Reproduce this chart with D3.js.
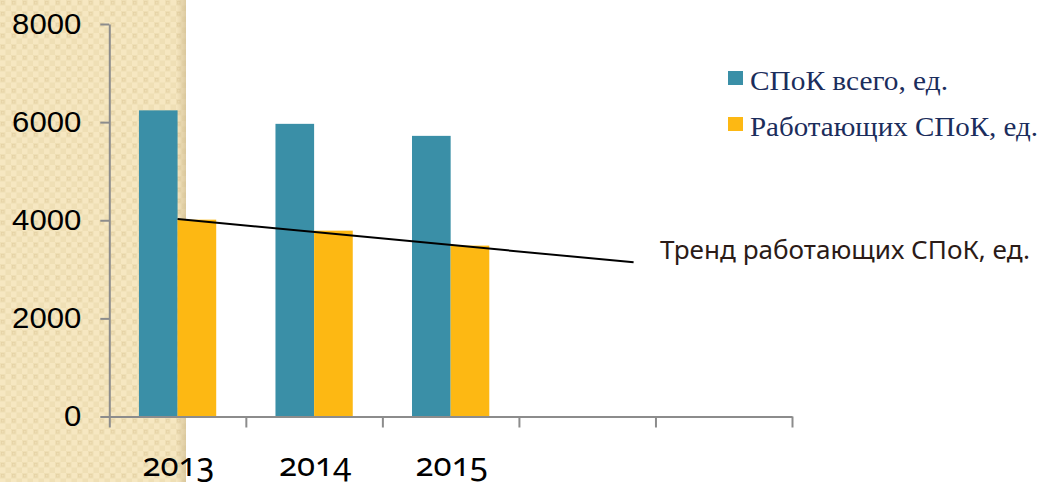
<!DOCTYPE html>
<html><head><meta charset="utf-8">
<script src="https://cdn.jsdelivr.net/npm/d3@7"></script>
<style>
html,body{margin:0;padding:0;background:#fff;overflow:hidden}
svg{display:block}
</style></head>
<body>
<svg id="chart" width="1044" height="482"></svg>
<script>
// ---- data ----
const categories = ["2013", "2014", "2015", "", ""];
const seriesNames = ["СПоК всего, ед.", "Работающих СПоК, ед."];
const totalValues = [6240, 5965, 5720];
const workingValues = [4012, 3788, 3483];
const yTicks = [0, 2000, 4000, 6000, 8000];
const trendLabel = "Тренд работающих СПоК, ед.";
const trendForward = 1.34; // forecast periods beyond last point

const colors = ["#3a8fa7", "#fdb813"];

const svg = d3.select("#chart");
const W = 1044, H = 482;

// background texture on the left
const defs = svg.append("defs");
const pat = defs.append("pattern").attr("id", "tex").attr("patternUnits", "userSpaceOnUse")
  .attr("width", 11).attr("height", 11);
pat.append("rect").attr("width", 11).attr("height", 11).attr("fill", "#f6e7c1");
pat.append("rect").attr("x", 0).attr("y", 0).attr("width", 5.5).attr("height", 5.5).attr("fill", "#efdfb5");
pat.append("rect").attr("x", 5.5).attr("y", 5.5).attr("width", 5.5).attr("height", 5.5).attr("fill", "#efdfb5");
pat.append("rect").attr("x", 1.5).attr("y", 1.5).attr("width", 2.5).attr("height", 2.5).attr("fill", "none").attr("stroke", "#e6d3a6").attr("stroke-width", 0.8);
const grad = defs.append("linearGradient").attr("id", "shade").attr("x1", 0).attr("x2", 1);
grad.append("stop").attr("offset", "0").attr("stop-color", "#c9b487").attr("stop-opacity", 0);
grad.append("stop").attr("offset", "1").attr("stop-color", "#c9b487").attr("stop-opacity", 0.55);
svg.append("rect").attr("x", 0).attr("y", 0).attr("width", 186).attr("height", H).attr("fill", "url(#tex)");
svg.append("rect").attr("x", 176).attr("y", 0).attr("width", 10).attr("height", H).attr("fill", "url(#shade)");

// ---- scales ----
const x0 = d3.scaleBand().domain(d3.range(categories.length)).range([109.3, 792]).padding(0);
const bw = x0.bandwidth();
const x1 = d3.scaleBand().domain(d3.range(seriesNames.length)).range([bw * 0.217, bw * 0.783]).padding(0);
const y = d3.scaleLinear().domain([0, 8000]).range([416.5, 24]);

// ---- bars ----
const seriesData = [totalValues, workingValues];
seriesData.forEach((vals, si) => {
  svg.append("g").selectAll("rect").data(vals).join("rect")
    .attr("x", (d, i) => x0(i) + x1(si))
    .attr("y", d => y(d))
    .attr("width", x1.bandwidth())
    .attr("height", d => y(0) - y(d))
    .attr("fill", colors[si]);
});

// ---- axes ----
const axisColor = "#8c8c8c";
const yAxis = svg.append("g").attr("transform", "translate(109.3,0)")
  .call(d3.axisLeft(y).tickValues(yTicks).tickSize(9).tickSizeOuter(0).tickPadding(19).tickFormat(d3.format("d")));
yAxis.select(".domain").attr("stroke", axisColor).attr("stroke-width", 2);
yAxis.selectAll(".tick line").attr("stroke", axisColor).attr("stroke-width", 2);
yAxis.selectAll(".tick text").attr("fill", "#000").style("font-family", "'Liberation Sans', Arial, sans-serif")
  .style("font-size", "29px").attr("textLength", d => String(d).length * 17.3).attr("lengthAdjust", "spacingAndGlyphs");

const xb = d3.scaleLinear().domain([0, categories.length]).range([109.3, 792]);
const xAxis = svg.append("g").attr("transform", "translate(0,416.5)")
  .call(d3.axisBottom(xb).tickValues(d3.range(categories.length + 1)).tickSize(11).tickSizeOuter(0).tickFormat(""));
xAxis.select(".domain").attr("stroke", axisColor).attr("stroke-width", 2);
xAxis.selectAll(".tick line").attr("stroke", axisColor).attr("stroke-width", 2);

svg.append("g").selectAll("text").data(categories).join("text")
  .attr("x", (d, i) => x0(i) + bw / 2 + 1)
  .attr("y", 476)
  .attr("text-anchor", "middle")
  .style("font-family", "'Noto Sans', 'Open Sans', sans-serif")
  .style("font-size", "33px")
  .style("font-variant-numeric", "oldstyle-nums")
  .attr("fill", "#000")
  .text(d => d);

// ---- trend line (linear regression of working values) ----
const n = workingValues.length;
const xm = d3.mean(d3.range(n)), ym = d3.mean(workingValues);
const slope = d3.sum(workingValues.map((v, i) => (i - xm) * (v - ym))) / d3.sum(d3.range(n).map(i => (i - xm) ** 2));
const intercept = ym - slope * xm;
const idxToX = i => x0(0) + bw / 2 + i * bw;
const trendPts = [0, n - 1 + trendForward];
svg.append("path")
  .attr("d", d3.line().x(d => idxToX(d)).y(d => y(intercept + slope * d))(trendPts))
  .attr("stroke", "#000").attr("stroke-width", 2).attr("fill", "none");

svg.append("text").attr("x", 660).attr("y", 259)
  .style("font-family", "'Noto Sans', 'Open Sans', sans-serif")
  .style("font-size", "25.5px")
  .attr("textLength", 370).attr("lengthAdjust", "spacingAndGlyphs")
  .attr("fill", "#2b1b17")
  .text(trendLabel);

// ---- legend ----
const legendWidths = [198, 288];
const lg = svg.append("g");
seriesNames.forEach((name, i) => {
  const yy = 71 + i * 46;
  lg.append("rect").attr("x", 728).attr("y", yy).attr("width", 15).attr("height", 14).attr("fill", colors[i]);
  lg.append("text").attr("x", 750).attr("y", yy + 18.5)
    .style("font-family", "'Liberation Serif', 'Times New Roman', serif")
    .style("font-size", "27px")
    .attr("textLength", legendWidths[i]).attr("lengthAdjust", "spacingAndGlyphs")
    .attr("fill", "#1b2d5c")
    .text(name);
});
</script>
</body></html>
